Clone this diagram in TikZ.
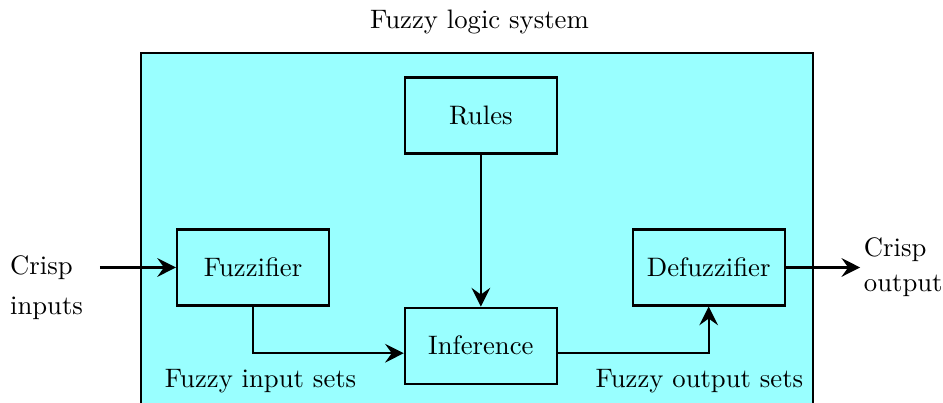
\documentclass[tikz,border=0pt]{standalone}
\usepackage{amsmath}
\usetikzlibrary{arrows.meta}
\usetikzlibrary{positioning}
\usetikzlibrary{calc}

\definecolor{sysfill}{RGB}{153,255,255}

\begin{document}
\begin{tikzpicture}[
      >={Stealth[length=7pt, width=7pt, inset=2.5pt]},
      node distance = 1cm,
      block/.style = {
        rectangle, draw = black, thick,
        minimum width = 2cm, minimum height = 1cm
      },
      system/.style = { draw = black, thick, fill = sysfill },
      link/.style = { black, thick, -> },
    ]
    \useasboundingbox (-3.33,3.52) rectangle (9.08,-1.78);

    \node[system, anchor = north west,
          minimum width = 8.84cm, minimum height = 5cm] (S) at (-1.49,2.84) {};
    \node (T) at (2.98,3.23) {Fuzzy logic system};

    \node[block] (F) at (0,0) {Fuzzifier};
    \node[block, below right = 0cm and 0.97cm of F] (I) {Inference};
    \node[block, above right = 0cm and 0.97cm of I] (D) {Defuzzifier};
    \node[block, above = 2cm of I] (R) {Rules};

    \coordinate (in)  at ([xshift=-1cm]F.west);
    \coordinate (out) at ([xshift= 0.98cm]D.east);

    \draw[link] (in) -- (F);
    \draw[link] (R) -- (I);
    \draw[link] (F.south) |- ([yshift=-1mm]I.west);
    \draw[link] ([yshift=-1mm]I.east) -| (D.south);
    \draw[link] (D) -- (out);

    \node[align = left, anchor = north east] (In) at ([shift={(-0.1,0.28)}]in) {Crisp\\[3pt]inputs};
    \node[align = left, right, inner sep = 1.2pt] (Out) at (out) {Crisp\\[1pt]output};

    \node (FI) at (0.1,-1.5) {Fuzzy input sets};
    \node (FO) at (5.875,-1.5) {Fuzzy output sets};
  \end{tikzpicture}
\end{document}
